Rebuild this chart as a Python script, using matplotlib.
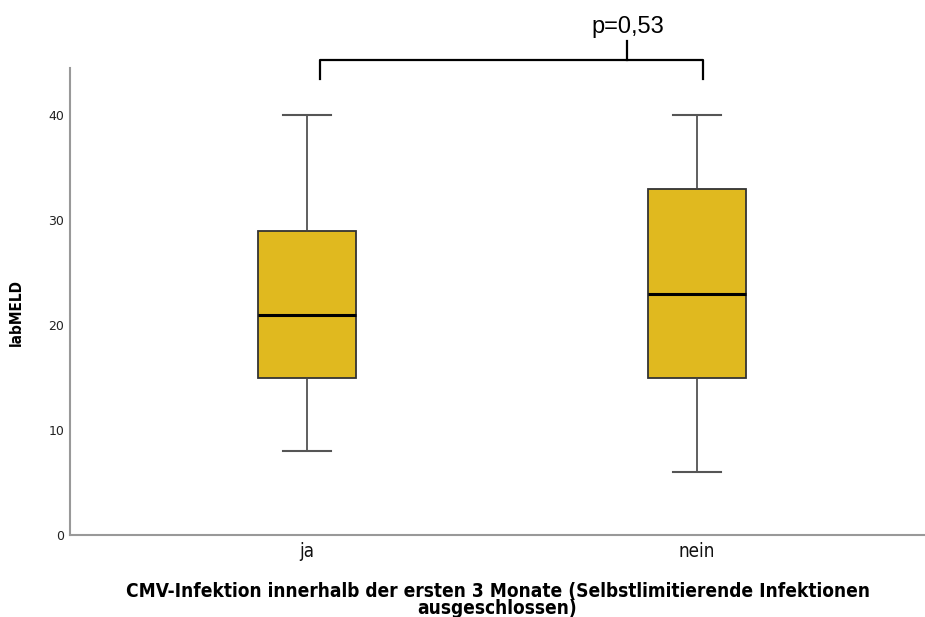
import matplotlib.pyplot as plt
from matplotlib.lines import Line2D

# Five-number summaries per group (whisker low, Q1, median, Q3, whisker high)
groups = ["ja", "nein"]
whislo = [8, 6]
q1 = [15, 15]
med = [21, 23]
q3 = [29, 33]
whishi = [40, 40]
y_ticks = [0, 10, 20, 30, 40]
p_label = "p=0,53"

fig = plt.figure(figsize=(9.25, 6.17), dpi=100)
ax = fig.add_axes([70 / 925, 1 - 535 / 617, 855 / 925, 467 / 617])

stats = [dict(whislo=a, q1=b, med=c, q3=d, whishi=e, fliers=[], label=g)
         for g, a, b, c, d, e in zip(groups, whislo, q1, med, q3, whishi)]

ax.bxp(stats, positions=[1, 2], widths=0.251, patch_artist=True,
       showfliers=False,
       boxprops=dict(facecolor="#E0B91F", edgecolor="#333333", linewidth=1.3),
       medianprops=dict(color="black", linewidth=2.2),
       whiskerprops=dict(color="#444444", linewidth=1.2),
       capprops=dict(color="#555555", linewidth=1.5),
       capwidths=0.123)

ax.set_xlim(0.392, 2.585)
ax.set_ylim(0, 44.5)
ax.set_yticks(y_ticks)
ax.tick_params(axis="both", length=0)
ax.tick_params(axis="y", labelsize=9, labelcolor="#222222", pad=4)
ax.tick_params(axis="x", labelsize=13.5, labelcolor="#111111", pad=5)
for lbl in ax.get_xticklabels():
    lbl.set_fontstretch("condensed")

for side in ("top", "right"):
    ax.spines[side].set_visible(False)
for side in ("left", "bottom"):
    ax.spines[side].set_color("#999999")
    ax.spines[side].set_linewidth(1.5)

ax.set_ylabel("labMELD", fontsize=11, fontweight="bold", fontstretch="condensed")
ax.yaxis.set_label_coords(-46 / 855, (535 - 313) / 467)
ax.set_xlabel("CMV-Infektion innerhalb der ersten 3 Monate (Selbstlimitierende Infektionen\nausgeschlossen)",
              fontsize=13.7, fontweight="bold", fontstretch="condensed",
              labelpad=15, linespacing=0.88)

# Significance bracket above the plot, in figure pixel coordinates
W, H = 925, 617
def fx(px):
    return px / W
def fy(py):
    return 1 - py / H

x_l, x_r, x_mid = 320, 703, 627
for xs, ys in [((x_l, x_l, x_r, x_r), (79, 60, 60, 79)),
               ((x_mid, x_mid), (60, 41))]:
    fig.add_artist(Line2D([fx(v) for v in xs], [fy(v) for v in ys],
                          color="black", linewidth=1.6,
                          transform=fig.transFigure))
fig.text(fx(628), fy(27), p_label, ha="center", va="center",
         fontsize=17, family="Liberation Sans", color="black")

fig.savefig("out.png", dpi=100)
